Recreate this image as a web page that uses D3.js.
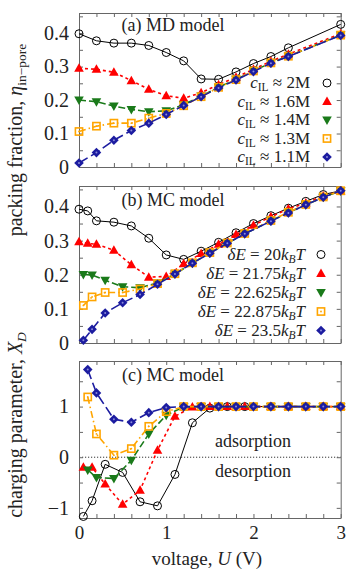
<!DOCTYPE html>
<html>
<head>
  <script src="https://d3js.org/d3.v7.min.js"></script>
  <style>
    body { margin: 0; background: #fff; }
    text { font-family: "Liberation Serif", serif; fill: #222; }
    .tick line { stroke: #666; }
    .domain { stroke: #666; }
  </style>
</head>
<body>
  <script>
    // (a) MD model
    var uA = [0, 0.2, 0.4, 0.6, 0.8, 1.0, 1.2, 1.4, 1.6, 1.8, 2.0, 2.2, 2.4, 3.0];
    var a2M  = [0.398, 0.377, 0.370, 0.370, 0.363, 0.342, 0.317, 0.263, 0.262, 0.284, 0.309, 0.330, 0.356, 0.426];
    var a16M = [0.295, 0.292, 0.283, 0.258, 0.232, 0.213, 0.205, 0.222, 0.246, 0.268, 0.292, 0.316, 0.337, 0.398];
    var a14M = [0.200, 0.195, 0.182, 0.172, 0.165, 0.168, 0.186, 0.212, 0.238, 0.262, 0.287, 0.311, 0.331, 0.394];
    var a13M = [0.106, 0.122, 0.131, 0.131, 0.146, 0.160, 0.183, 0.210, 0.238, 0.261, 0.287, 0.311, 0.331, 0.394];
    var a11M = [0.012, 0.043, 0.080, 0.109, 0.131, 0.157, 0.184, 0.210, 0.236, 0.260, 0.285, 0.310, 0.330, 0.393];

    // (b) MC model
    var uB1 = [0, 0.1, 0.2, 0.4, 0.6, 0.8, 1.0, 1.2, 1.4, 1.6, 1.8, 2.0, 2.2, 2.4, 2.6, 2.8, 3.0];
    var uB2 = [0.05, 0.15, 0.3, 0.5, 0.7, 0.9, 1.1, 1.3, 1.5, 1.7, 1.9, 2.2, 2.4, 2.6, 2.8, 3.0];
    var b20    = [0.392, 0.387, 0.358, 0.354, 0.343, 0.307, 0.258, 0.245, 0.269, 0.295, 0.323, 0.350, 0.373, 0.395, 0.415, 0.435, 0.446];
    var b2175  = [0.297, 0.292, 0.289, 0.272, 0.229, 0.193, 0.195, 0.232, 0.262, 0.289, 0.318, 0.345, 0.370, 0.393, 0.410, 0.431, 0.445];
    var b22625 = [0.201, 0.199, 0.184, 0.165, 0.162, 0.176, 0.202, 0.234, 0.264, 0.292, 0.320, 0.358, 0.382, 0.405, 0.427, 0.446];
    var b22875 = [0.110, 0.135, 0.148, 0.148, 0.158, 0.174, 0.203, 0.235, 0.265, 0.293, 0.321, 0.359, 0.383, 0.406, 0.428, 0.446];
    var b235   = [0.008, 0.040, 0.088, 0.118, 0.142, 0.172, 0.202, 0.234, 0.263, 0.292, 0.320, 0.357, 0.381, 0.405, 0.427, 0.446];

    // (c) charging parameter
    var uC1 = [0.05, 0.15, 0.3, 0.5, 0.7, 0.9, 1.1, 1.3, 1.5, 1.7, 1.9, 2.2, 2.4, 2.6, 2.8, 3.0];
    var uC2 = [0.1, 0.2, 0.4, 0.6, 0.8, 1.0, 1.2, 1.4, 1.6, 1.8, 2.0, 2.2, 2.4, 2.6, 2.8, 3.0];
    var c20    = [-1.17, -0.86, -0.14, -0.30, -0.88, -0.96, -0.34, 0.68, 0.97, 1, 1, 1, 1, 1, 1, 1];
    var c2175  = [-0.20, -0.20, -0.53, -0.93, -0.65, 0.14, 0.81, 0.99, 1, 1, 1, 1, 1, 1, 1, 1];
    var c22625 = [-0.25, -0.40, -0.42, -0.06, 0.46, 0.83, 0.99, 1, 1, 1, 1, 1, 1, 1, 1, 1];
    var c22875 = [1.19, 0.46, 0.04, 0.17, 0.61, 0.90, 1.0, 1, 1, 1, 1, 1, 1, 1, 1, 1];
    var c235   = [1.73, 1.27, 0.75, 0.69, 0.88, 0.98, 1.0, 1, 1, 1, 1, 1, 1, 1, 1, 1];

    var legendA = ["2M", "1.6M", "1.4M", "1.3M", "1.1M"];
    var legendB = ["20", "21.75", "22.625", "22.875", "23.5"];

    var styles = [
      {color: "#000000", dash: null, width: 1, marker: "circle"},
      {color: "#ff0000", dash: "3,3", width: 1.6, marker: "up"},
      {color: "#1a7a1a", dash: "7,3", width: 1.6, marker: "down"},
      {color: "#ffa500", dash: "7,3,1.5,3", width: 1.6, marker: "square"},
      {color: "#1c1ca0", dash: "10,4", width: 1.6, marker: "diamond"}
    ];

    var W = 349, H = 576;
    var svg = d3.select("body").append("svg")
        .attr("width", W)
        .attr("height", H);

    var x = d3.scaleLinear().domain([0, 3]).range([79, 340.7]);

    var panels = [
      {y: d3.scaleLinear().domain([0, 0.46]).range([167, 13]), step: 0.05, major: 0.1,
       fmt: function(v) { return v === 0 ? "0" : d3.format(".1f")(v); },
       title: "(a) MD model", titleY: 31,
       series: [[uA, a2M], [uA, a16M], [uA, a14M], [uA, a13M], [uA, a11M]]},
      {y: d3.scaleLinear().domain([0, 0.46]).range([343, 186]), step: 0.05, major: 0.1,
       fmt: function(v) { return v === 0 ? "0" : d3.format(".1f")(v); },
       title: "(b) MC model", titleY: 206,
       series: [[uB1, b20], [uB1, b2175], [uB2, b22625], [uB2, b22875], [uB2, b235]]},
      {y: d3.scaleLinear().domain([-1.2, 1.9]).range([518, 361]), step: 0.5, major: 1,
       fmt: function(v) { return v < 0 ? "\u2212" + Math.abs(v) : String(v); },
       title: "(c) MC model", titleY: 381,
       series: [[uC1, c20], [uC1, c2175], [uC2, c22625], [uC2, c22875], [uC2, c235]]}
    ];

    var xTicks = d3.range(0, 3.001, 0.2);

    function symbol(g, type, color) {
      if (type === "circle") {
        g.append("circle").attr("r", 4).attr("fill", "none").attr("stroke", color).attr("stroke-width", 1);
      } else if (type === "up") {
        g.append("path").attr("d", "M0,-5L4.8,3.5L-4.8,3.5Z").attr("fill", color);
      } else if (type === "down") {
        g.append("path").attr("d", "M0,5L4.8,-3.5L-4.8,-3.5Z").attr("fill", color);
      } else if (type === "square") {
        g.append("rect").attr("x", -3.6).attr("y", -3.6).attr("width", 7.2).attr("height", 7.2)
          .attr("fill", "none").attr("stroke", color).attr("stroke-width", 1.6);
        g.append("circle").attr("r", 0.9).attr("fill", color);
      } else {
        g.append("path").attr("d", "M0,-4.8L4.8,0L0,4.8L-4.8,0Z").attr("fill", color);
        g.append("circle").attr("r", 1).attr("fill", "#8a8ad8");
      }
    }

    panels.forEach(function(p, i) {
      var y = p.y;
      var top = y.range()[1], bottom = y.range()[0];
      var yTicks = d3.range(0, y.domain()[1] + 1e-9, p.step);
      if (i === 2) yTicks = d3.range(-1, 1.51, 0.5);
      var g = svg.append("g");

      // zero line in panel (c)
      if (i === 2) {
        g.append("line").attr("x1", x(0)).attr("x2", x(3)).attr("y1", y(0)).attr("y2", y(0))
          .attr("stroke", "#000").attr("stroke-width", 0.8).attr("stroke-dasharray", "1.2,1.8");
      }

      // axes, ticks pointing inward
      g.append("g").attr("transform", "translate(0," + bottom + ")")
        .call(d3.axisBottom(x).tickValues(xTicks).tickSize(-4).tickSizeOuter(0)
          .tickFormat(function(v) { return i === 2 && Math.abs(v - Math.round(v)) < 1e-6 ? String(Math.round(v)) : ""; }))
        .call(function(s) { s.selectAll("text").attr("font-size", 19).attr("dy", "0.95em").attr("fill", "#222"); });
      g.append("g").attr("transform", "translate(0," + top + ")")
        .call(d3.axisTop(x).tickValues(xTicks).tickSize(-4).tickSizeOuter(0).tickFormat(""));
      g.append("g").attr("transform", "translate(" + x(0) + ",0)")
        .call(d3.axisLeft(y).tickValues(yTicks).tickSize(-4).tickSizeOuter(0)
          .tickFormat(function(v) {
            var r = v / p.major;
            return Math.abs(r - Math.round(r)) < 1e-6 ? p.fmt(Math.round(r) * p.major) : "";
          }))
        .call(function(s) { s.selectAll("text").attr("font-size", 20).attr("x", -10).attr("fill", "#222"); });
      g.append("g").attr("transform", "translate(" + x(3) + ",0)")
        .call(d3.axisRight(y).tickValues(yTicks).tickSize(-4).tickSizeOuter(0).tickFormat(""));
      g.selectAll(".domain").attr("stroke", "#666");

      g.append("text").attr("x", 173).attr("y", p.titleY).attr("text-anchor", "middle")
        .attr("font-size", 18).text(p.title);

      // series lines then markers
      p.series.forEach(function(s, k) {
        var st = styles[k];
        var pts = s[0].map(function(u, j) { return [u, s[1][j]]; });
        var line = d3.line().x(function(d) { return x(d[0]); }).y(function(d) { return y(d[1]); });
        g.append("path").datum(pts).attr("d", line).attr("fill", "none")
          .attr("stroke", st.color).attr("stroke-width", st.width)
          .attr("stroke-dasharray", st.dash);
        pts.forEach(function(d) {
          var m = g.append("g").attr("transform", "translate(" + x(d[0]) + "," + y(d[1]) + ")");
          symbol(m, st.marker, st.color);
        });
      });
    });

    // legend (a)
    legendA.forEach(function(lab, k) {
      var yy = 83 + k * 18.5;
      var t = svg.append("text").attr("x", 310).attr("y", yy + 5).attr("text-anchor", "end").attr("font-size", 17);
      t.append("tspan").attr("font-style", "italic").text("c");
      t.append("tspan").attr("font-size", 11.5).attr("dy", 3).text("IL");
      t.append("tspan").attr("dy", -3).text(" \u2248 " + lab);
      var m = svg.append("g").attr("transform", "translate(327," + yy + ")");
      symbol(m, styles[k].marker, styles[k].color);
    });

    // legend (b)
    legendB.forEach(function(lab, k) {
      var yy = 254.5 + k * 19;
      var t = svg.append("text").attr("x", 305).attr("y", yy + 5).attr("text-anchor", "end").attr("font-size", 17);
      t.append("tspan").attr("font-style", "italic").text("\u03b4E");
      t.append("tspan").text(" = " + lab);
      t.append("tspan").attr("font-style", "italic").text("k");
      t.append("tspan").attr("font-style", "italic").attr("font-size", 11.5).attr("dy", 3).text("B");
      t.append("tspan").attr("font-style", "italic").attr("dy", -3).text("T");
      var m = svg.append("g").attr("transform", "translate(321," + yy + ")");
      symbol(m, styles[k].marker, styles[k].color);
    });

    // annotations in (c)
    svg.append("text").attr("x", 253).attr("y", 447).attr("text-anchor", "middle").attr("font-size", 18).text("adsorption");
    svg.append("text").attr("x", 253).attr("y", 477).attr("text-anchor", "middle").attr("font-size", 18).text("desorption");

    // axis labels
    var xl = svg.append("text").attr("x", 207).attr("y", 565).attr("text-anchor", "middle").attr("font-size", 19);
    xl.append("tspan").text("voltage, ");
    xl.append("tspan").attr("font-style", "italic").text("U");
    xl.append("tspan").text(" (V)");

    var yl1 = svg.append("text").attr("transform", "translate(22,140) rotate(-90)")
        .attr("text-anchor", "middle").attr("font-size", 20);
    yl1.append("tspan").text("packing fraction, ");
    yl1.append("tspan").attr("font-style", "italic").text("\u03b7");
    yl1.append("tspan").attr("font-size", 13.5).attr("dy", 4).text("in\u2212pore");

    var yl2 = svg.append("text").attr("transform", "translate(22,425) rotate(-90)")
        .attr("text-anchor", "middle").attr("font-size", 20);
    yl2.append("tspan").text("charging parameter, ");
    yl2.append("tspan").attr("font-style", "italic").text("X");
    yl2.append("tspan").attr("font-style", "italic").attr("font-size", 13.5).attr("dy", 4).text("D");
  </script>
</body>
</html>
